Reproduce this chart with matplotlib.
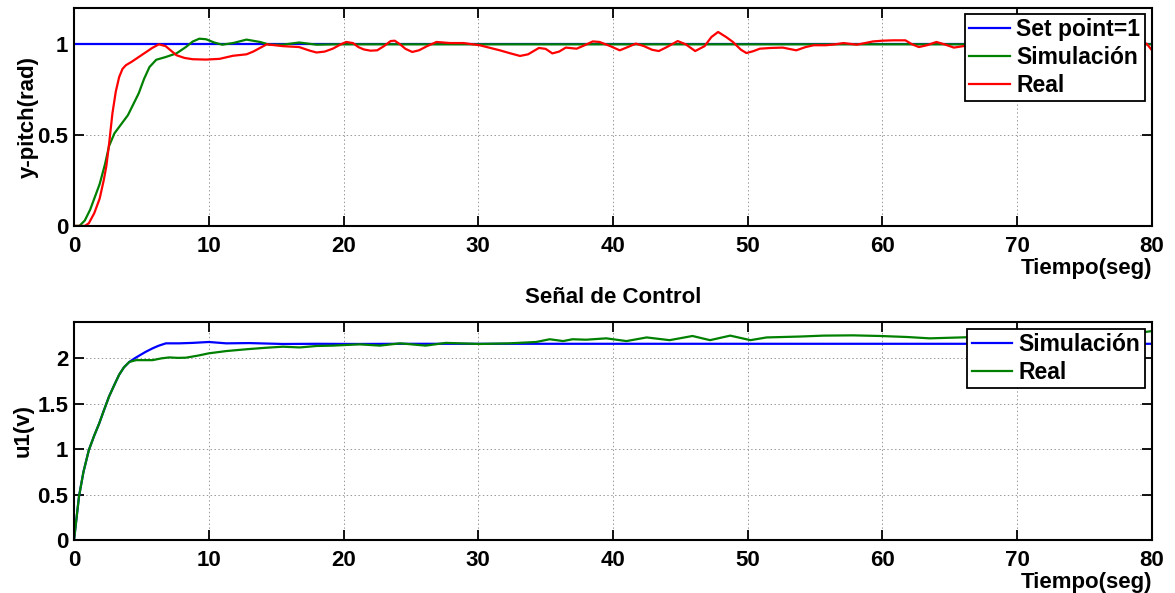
import matplotlib
matplotlib.use("Agg")
import matplotlib.pyplot as plt

plt.rcParams['font.family'] = ['Liberation Sans', 'DejaVu Sans']
plt.rcParams['font.weight'] = 'bold'

# ---- data ----
setpoint_t = [0, 80]
setpoint_y = [1, 1]

sim_pitch = [(0, 0), (0.4, 0), (0.8, 0.03), (1.2, 0.09), (1.6, 0.17), (1.9, 0.23), (2.3, 0.34),
             (2.6, 0.44), (3.0, 0.51), (3.5, 0.56), (4.0, 0.61), (4.4, 0.67), (4.8, 0.73),
             (5.2, 0.81), (5.6, 0.875), (6.1, 0.915), (6.8, 0.93), (7.6, 0.95), (8.3, 0.985),
             (8.8, 1.015), (9.3, 1.031), (9.8, 1.028), (10.4, 1.01), (11.0, 0.998), (11.8, 1.007),
             (12.8, 1.026), (13.8, 1.013), (14.5, 0.998), (15.5, 0.998), (16.7, 1.01), (18.0, 0.998),
             (19.5, 1.0), (21, 1.0), (80, 1.0)]

real_pitch = [(0, 0), (0.8, 0), (1.1, 0.015), (1.5, 0.07), (1.9, 0.15), (2.2, 0.25), (2.4, 0.33),
              (2.6, 0.45), (2.85, 0.62), (3.1, 0.74), (3.35, 0.82), (3.6, 0.865), (3.85, 0.885),
              (4.3, 0.905), (4.8, 0.93), (5.3, 0.955), (5.8, 0.98), (6.3, 1.0), (6.8, 0.99),
              (7.2, 0.965), (7.6, 0.94), (8.2, 0.925), (8.8, 0.918), (9.8, 0.916), (10.8, 0.92),
              (11.8, 0.937), (12.8, 0.945), (13.3, 0.96), (13.8, 0.98), (14.3, 1.0), (15.5, 0.99),
              (16.7, 0.985), (17.5, 0.965), (18.0, 0.955), (18.6, 0.96), (19.2, 0.976), (19.8, 1.0),
              (20.2, 1.013), (20.7, 1.007), (21.1, 0.985), (21.5, 0.972), (22.0, 0.965), (22.5, 0.967),
              (23.0, 0.99), (23.5, 1.018), (23.8, 1.02), (24.2, 1.0), (24.6, 0.975), (25.1, 0.958),
              (25.6, 0.967), (26.2, 0.99), (26.9, 1.013), (27.9, 1.007), (28.9, 1.007), (30.1, 0.995),
              (31.6, 0.967), (32.4, 0.95), (33.1, 0.936), (33.7, 0.945), (34.5, 0.98), (35.0, 0.975),
              (35.5, 0.95), (36.0, 0.96), (36.5, 0.982), (37.3, 0.976), (37.9, 0.995), (38.5, 1.016),
              (39.0, 1.013), (39.8, 0.99), (40.5, 0.967), (41.1, 0.985), (41.7, 1.004), (42.3, 0.99),
              (42.9, 0.97), (43.4, 0.963), (44.0, 0.985), (44.8, 1.018), (45.4, 1.0), (46.1, 0.963),
              (46.8, 0.99), (47.3, 1.04), (47.8, 1.068), (48.4, 1.04), (48.9, 1.013), (49.5, 0.97),
              (49.9, 0.952), (50.4, 0.962), (50.9, 0.976), (51.7, 0.98), (52.6, 0.982), (53.6, 0.967),
              (54.3, 0.985), (54.9, 0.995), (55.8, 0.995), (56.5, 1.0), (57.1, 1.007), (58.1, 0.998),
              (59.3, 1.016), (60.0, 1.02), (60.8, 1.022), (61.7, 1.022), (62.2, 1.0), (62.7, 0.985),
              (63.3, 0.995), (64.0, 1.013), (64.6, 1.0), (65.3, 0.982), (66.0, 0.99), (67, 1.0),
              (68, 1.005), (69, 0.99), (70, 0.985), (71, 1.0), (72, 1.01), (73, 1.0), (74, 0.99),
              (75, 0.995), (76, 1.005), (77, 1.0), (78, 0.995), (79, 1.0), (79.6, 1.004), (80, 0.967)]

sim_u = [(0, 0), (0.37, 0.48), (0.7, 0.75), (1.1, 0.99), (1.5, 1.15), (1.86, 1.28), (2.2, 1.42),
         (2.6, 1.58), (3.0, 1.71), (3.35, 1.82), (3.7, 1.9), (4.1, 1.96), (4.5, 2.0), (4.84, 2.03),
         (5.3, 2.07), (5.83, 2.11), (6.3, 2.14), (6.82, 2.165), (7.8, 2.165), (8.8, 2.17),
         (10, 2.18), (11.3, 2.165), (13, 2.168), (15.5, 2.158), (18, 2.16), (21, 2.158),
         (24, 2.16), (80, 2.16)]

real_u = [(0, 0), (0.37, 0.48), (0.7, 0.75), (1.1, 0.99), (1.5, 1.15), (1.86, 1.28), (2.2, 1.42),
          (2.6, 1.58), (3.0, 1.71), (3.35, 1.82), (3.7, 1.9), (4.1, 1.96), (4.6, 1.98), (5.2, 1.98),
          (5.83, 1.98), (6.5, 2.0), (7.07, 2.01), (7.7, 2.005), (8.3, 2.007), (9.2, 2.03),
          (10, 2.055), (11.3, 2.08), (12.8, 2.10), (14.3, 2.117), (15.5, 2.128), (16.75, 2.12),
          (18, 2.136), (19.2, 2.14), (21.2, 2.154), (22.7, 2.14), (24.2, 2.165), (26.1, 2.14),
          (27.6, 2.17), (30.1, 2.158), (32.3, 2.165), (34.3, 2.18), (35.3, 2.21), (36.3, 2.19),
          (37.0, 2.21), (38.0, 2.205), (39.5, 2.22), (41.0, 2.19), (42.5, 2.23), (44.2, 2.20),
          (45.9, 2.246), (47.2, 2.20), (48.7, 2.25), (50.2, 2.20), (51.4, 2.23), (53.9, 2.24),
          (55.6, 2.25), (57.8, 2.253), (59.8, 2.246), (61.8, 2.235), (63.5, 2.22), (65.8, 2.23),
          (68, 2.24), (70, 2.235), (72, 2.245), (74, 2.24), (76, 2.25), (78, 2.26), (79.5, 2.29),
          (80, 2.30)]

x_ticks = [0, 10, 20, 30, 40, 50, 60, 70, 80]
y_ticks_top = [0, 0.5, 1]
y_ticks_bottom = [0, 0.5, 1, 1.5, 2]
y_ticklabels_top = ['0', '0.5', '1']
y_ticklabels_bottom = ['0', '0.5', '1', '1.5', '2']

# ---- figure ----
fig = plt.figure(figsize=(11.75, 5.93), dpi=100)
ax1 = fig.add_axes([0.063, 0.619, 0.9174, 0.3675])
ax2 = fig.add_axes([0.063, 0.0894, 0.9174, 0.3676])

lw = 1.6
ax1.plot(setpoint_t, setpoint_y, color='#0000ff', lw=lw, label='Set point=1')
ax1.plot([p[0] for p in sim_pitch], [p[1] for p in sim_pitch], color='#008000', lw=lw, label='Simulación')
ax1.plot([p[0] for p in real_pitch], [p[1] for p in real_pitch], color='#ff0000', lw=lw, label='Real')

ax2.plot([p[0] for p in sim_u], [p[1] for p in sim_u], color='#0000ff', lw=lw, label='Simulación')
ax2.plot([p[0] for p in real_u], [p[1] for p in real_u], color='#008000', lw=lw, label='Real')

FS = 16
for ax, yt, ytl, ylim in [(ax1, y_ticks_top, y_ticklabels_top, 1.2),
                          (ax2, y_ticks_bottom, y_ticklabels_bottom, 2.4)]:
    ax.set_xlim(0, 80)
    ax.set_ylim(0, ylim)
    ax.set_xticks(x_ticks)
    ax.set_xticklabels([str(v) for v in x_ticks])
    ax.set_yticks(yt)
    ax.set_yticklabels(ytl)
    ax.tick_params(direction='in', length=7, width=1.3, top=True, right=True,
                   labelsize=FS)
    ax.tick_params(axis='x', pad=7)
    ax.tick_params(axis='y', pad=4)
    for lab in ax.get_xticklabels() + ax.get_yticklabels():
        lab.set_fontweight('bold')
    ax.grid(True, linestyle=(0, (1.5, 2.5)), color='#999999', linewidth=0.7)
    for s in ax.spines.values():
        s.set_linewidth(1.5)
    ax.set_xlabel('Tiempo(seg)', fontsize=FS, fontweight='bold', loc='right', labelpad=1)

ax1.set_ylabel('y-pitch(rad)', fontsize=FS, fontweight='bold', labelpad=-1)
ax2.set_ylabel('u1(v)', fontsize=FS, fontweight='bold', labelpad=3)
ax2.set_title('Señal de Control', fontsize=16, fontweight='bold', pad=14)

leg_kw = dict(fancybox=False, edgecolor='black', framealpha=1,
              handlelength=1.75, handletextpad=0.3, labelspacing=0.2, borderpad=0.2,
              borderaxespad=0, prop={'weight': 'bold', 'size': 16.5})
l1 = ax1.legend(loc='upper right', bbox_to_anchor=(0.9935, 0.973), **leg_kw)
l2 = ax2.legend(loc='upper right', bbox_to_anchor=(0.9935, 0.97), **leg_kw)
for l in (l1, l2):
    l.get_frame().set_linewidth(1.3)

fig.savefig('out.png', dpi=100)
